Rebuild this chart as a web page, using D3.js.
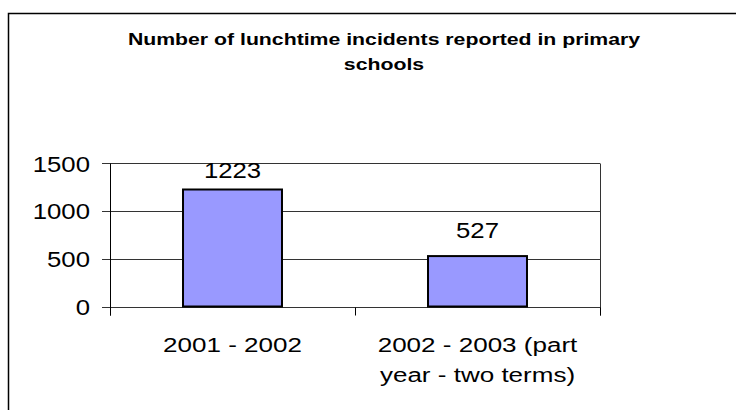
<!DOCTYPE html>
<html>
<head>
<meta charset="utf-8">
<script src="https://cdn.jsdelivr.net/npm/d3@7/dist/d3.min.js"></script>
<style>
  html, body { margin: 0; padding: 0; background: #fff; }
  svg { display: block; }
  text { font-family: "Liberation Sans", Arial, sans-serif; fill: #000; }
</style>
</head>
<body>
<script>
// Lunchtime incidents per school year
const categories = ["2001 - 2002", "2002 - 2003 (part year - two terms)"];
const categoryLines = [["2001 - 2002"], ["2002 - 2003 (part", "year - two terms)"]];
const incidents = [1223, 527];
const yTicks = [0, 500, 1000, 1500];
const titleLines = ["Number of lunchtime incidents reported in primary", "schools"];

const W = 736, H = 410;
const plot = { left: 110, right: 600, top: 163, bottom: 306.5 };

const svg = d3.select("body").append("svg").attr("width", W).attr("height", H);

// chart frame
svg.append("rect")
  .attr("x", 8.5).attr("y", 13.5)
  .attr("width", 800).attr("height", 500)
  .attr("fill", "#fff").attr("stroke", "#000").attr("stroke-width", 1.5);

// title
svg.append("g").selectAll("text").data(titleLines).join("text")
  .attr("text-anchor", "middle")
  .attr("font-weight", "bold")
  .attr("font-size", 17)
  .attr("transform", (d, i) => `translate(384,${45 + i * 25}) scale(1.25,1)`)
  .text(d => d);

const y = d3.scaleLinear().domain([0, 1500]).range([plot.bottom, plot.top]);
const xCat = d3.scaleBand().domain(categories).range([plot.left, plot.right]).padding(0);
const xBar = d3.scaleBand().domain(categories).range([plot.left, plot.right])
  .paddingInner(0.596).paddingOuter(0.298);

const crisp = v => Math.round(v) + 0.5;

// gridlines with tick stubs on the left
const grid = svg.append("g");
grid.selectAll("line").data(yTicks).join("line")
  .attr("x1", plot.left - 8).attr("x2", plot.right)
  .attr("y1", d => crisp(y(d))).attr("y2", d => crisp(y(d)))
  .attr("stroke", "#333").attr("stroke-width", 1);

// plot border on the right
svg.append("line")
  .attr("x1", crisp(plot.right)).attr("x2", crisp(plot.right))
  .attr("y1", crisp(y(1500))).attr("y2", crisp(y(0)) + 8)
  .attr("stroke", "#333");

// value axis line
svg.append("line")
  .attr("x1", crisp(plot.left)).attr("x2", crisp(plot.left))
  .attr("y1", crisp(y(1500))).attr("y2", crisp(y(0)) + 8)
  .attr("stroke", "#000");

// category boundaries as ticks
const bounds = [xCat(categories[0]), xCat(categories[1]), xCat(categories[1]) + xCat.bandwidth()];
svg.append("g").selectAll("line").data(bounds).join("line")
  .attr("x1", d => crisp(d)).attr("x2", d => crisp(d))
  .attr("y1", crisp(y(0))).attr("y2", crisp(y(0)) + 8)
  .attr("stroke", "#000");

// y tick labels
svg.append("g").selectAll("text").data(yTicks).join("text")
  .attr("text-anchor", "end")
  .attr("font-size", 22)
  .attr("transform", d => `translate(90,${y(d) + 8.5}) scale(1.17,1)`)
  .text(d => d);

// bars
svg.append("g").selectAll("rect").data(incidents).join("rect")
  .attr("x", (d, i) => xBar(categories[i]))
  .attr("width", xBar.bandwidth())
  .attr("y", d => y(d))
  .attr("height", d => y(0) - y(d))
  .attr("fill", "#9999ff")
  .attr("stroke", "#000")
  .attr("stroke-width", 2);

// value labels, kept within the chart top
svg.append("g").selectAll("text").data(incidents).join("text")
  .attr("text-anchor", "middle")
  .attr("font-size", 22)
  .attr("transform", (d, i) => {
    const cx = xBar(categories[i]) + xBar.bandwidth() / 2;
    const by = Math.max(y(d) - 18, y(1500) + 15);
    return `translate(${cx},${by}) scale(1.17,1)`;
  })
  .text(d => d);

// category labels
const catG = svg.append("g").selectAll("g").data(categories).join("g");
catG.each(function (c, i) {
  const cx = xCat(c) + xCat.bandwidth() / 2;
  d3.select(this).selectAll("text").data(categoryLines[i]).join("text")
    .attr("text-anchor", "middle")
    .attr("font-size", 21)
    .attr("transform", (t, j) => `translate(${cx},${352 + j * 29.5}) scale(1.24,1)`)
    .text(t => t);
});
</script>
</body>
</html>
